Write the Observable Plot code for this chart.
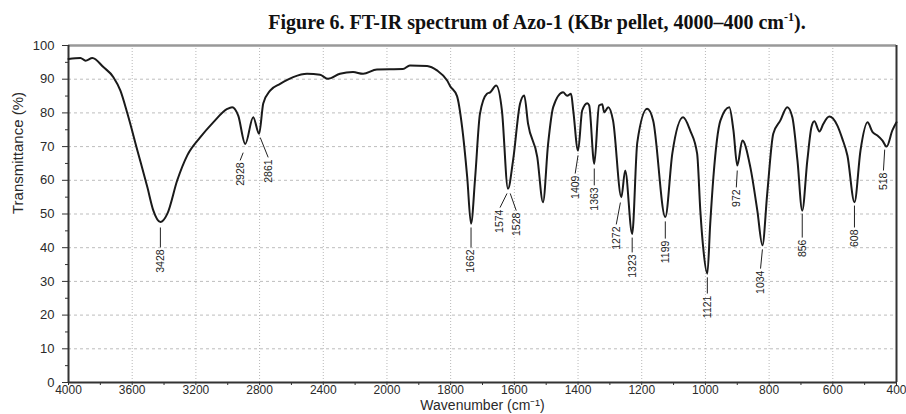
<!DOCTYPE html>
<html><head><meta charset="utf-8">
<script src="https://cdn.jsdelivr.net/npm/d3@7"></script>
<script src="https://cdn.jsdelivr.net/npm/@observablehq/plot@0.6"></script>
<style>
body{margin:0;background:#fff;}
#title{height:36px;width:906px;box-sizing:border-box;padding-left:168px;text-align:center;font:bold 20px "Liberation Serif","Times New Roman",serif;line-height:44px;color:#111;white-space:nowrap;}
#title sup{font-size:12px;line-height:0;}
</style></head><body>
<div id="title">Figure 6. FT-IR spectrum of Azo-1 (KBr pellet, 4000–400 cm<sup>-1</sup>).</div>
<div id="chart"></div>
<script>
// Spectrum (wavenumber in cm^-1, transmittance in %)
const wavenumbers = [4000, 3925, 3893, 3850, 3781, 3718, 3674, 3630, 3567, 3505, 3467, 3423, 3379, 3317, 3254, 3172, 3091, 3003, 2972, 2934, 2890, 2840, 2803, 2777, 2734, 2671, 2589, 2502, 2420, 2370, 2295, 2213, 2150, 2063, 1950, 1928, 1874, 1843, 1811, 1802, 1780, 1764, 1748, 1736, 1723, 1708, 1686, 1676, 1657, 1639, 1620, 1604, 1582, 1569, 1557, 1528, 1510, 1494, 1478, 1447, 1434, 1422, 1415, 1400, 1387, 1371, 1365, 1349, 1334, 1324, 1318, 1305, 1290, 1264, 1252, 1230, 1214, 1183, 1164, 1126, 1104, 1070, 1048, 1026, 1016, 1007, 994, 985, 975, 953, 925, 912, 900, 884, 859, 837, 821, 806, 787, 765, 743, 727, 711, 696, 680, 667, 658, 642, 630, 611, 586, 570, 554, 532, 513, 491, 475, 460, 444, 431, 413, 400];
const transmittance = [96.0, 96.3, 95.5, 96.3, 93.6, 90.6, 86.6, 79.8, 68.8, 58.0, 51.0, 47.6, 50.1, 60.0, 67.4, 72.8, 77.2, 81.2, 81.7, 79.2, 70.8, 78.7, 73.8, 82.8, 86.6, 88.6, 90.6, 91.6, 91.3, 90.1, 91.6, 92.1, 91.6, 92.9, 93.0, 94.1, 93.9, 92.6, 89.6, 88.0, 85.0, 75.8, 60.9, 47.1, 60.9, 79.7, 85.7, 86.1, 88.1, 80.7, 57.5, 65.9, 82.8, 85.2, 76.8, 66.9, 53.5, 70.8, 81.7, 86.1, 85.1, 85.7, 80.7, 68.8, 80.7, 82.9, 82.2, 64.9, 82.2, 82.6, 80.2, 81.7, 77.7, 55.0, 62.9, 44.1, 71.2, 81.2, 77.7, 49.1, 67.9, 78.7, 74.8, 67.9, 51.0, 40.0, 32.3, 47.0, 60.9, 77.7, 81.7, 74.8, 64.4, 71.8, 63.9, 51.0, 40.7, 56.0, 73.8, 77.7, 81.7, 78.7, 65.9, 51.0, 65.9, 75.8, 77.5, 74.5, 76.7, 78.9, 76.3, 72.3, 67.3, 53.5, 68.9, 77.2, 74.3, 73.3, 71.8, 70.0, 74.8, 77.2];

// Peak annotations: label text, leader line start (wn, %T) and end (wn, %T)
const peakLabels = ["3428", "2928", "2861", "1662", "1574", "1528", "1409", "1363", "1272", "1323", "1199", "1121", "972", "1034", "856", "608", "518"];
const leaderStartWn = [3423, 2903, 2796, 1736, 1623, 1613, 1400, 1349, 1267, 1230, 1126, 994, 900, 821, 696, 532, 437];
const leaderStartT  = [46.0, 68.2, 72.7, 46.0, 56.1, 56.1, 67.4, 63.5, 53.4, 43.0, 47.8, 31.2, 62.9, 39.5, 50.1, 52.5, 69.1];
const leaderEndWn   = [3423, 2922, 2746, 1736, 1645, 1594, 1409, 1349, 1280, 1230, 1126, 994, 903, 827, 696, 532, 441];
const leaderEndT    = [40.1, 65.9, 66.8, 40.1, 51.9, 51.0, 62.0, 58.5, 46.9, 38.6, 42.7, 26.4, 57.9, 33.8, 43.0, 46.0, 62.9];

// Axis ticks (the wavenumber axis changes scale at 2000: ticks are evenly spaced)
const xTicks = [4000, 3600, 3200, 2800, 2400, 2000, 1800, 1600, 1400, 1200, 1000, 800, 600, 400];
const xMinorTicks = [3800, 3400, 3000, 2600, 2200, 1900, 1700, 1500, 1300, 1100, 900, 700, 500];
const yTicks = [0, 10, 20, 30, 40, 50, 60, 70, 80, 90, 100];
const yMinorTicks = [5, 15, 25, 35, 45, 55, 65, 75, 85, 95];

const spectrum = wavenumbers.map((w, i) => ({wn: w, t: transmittance[i]}));
const peaks = peakLabels.map((l, i) => ({label: l, sx: leaderStartWn[i], sy: leaderStartT[i], ex: leaderEndWn[i], ey: leaderEndT[i]}));
const lastTick = xTicks[xTicks.length - 1];

const chart = Plot.plot({
  width: 906, height: 378,
  marginLeft: 68, marginRight: 10, marginTop: 9, marginBottom: 32,
  style: {fontFamily: "'Liberation Sans', Arial, sans-serif", background: "white", color: "#2a2a2a"},
  x: {type: "linear", domain: xTicks},
  y: {domain: [0, 100]},
  marks: [
    Plot.gridX(xTicks, {stroke: "#b8b8b8", strokeOpacity: 1, strokeDasharray: "1,2"}),
    Plot.gridY(yTicks.slice(1, -1), {stroke: "#bdbdbd", strokeOpacity: 1, strokeDasharray: "3,3"}),
    Plot.ruleY([100], {stroke: "#999", strokeWidth: 2.5}),
    Plot.ruleX([lastTick], {stroke: "#333", strokeWidth: 2}),
    Plot.axisX(xTicks, {tickSize: 3, tickPadding: 0, fontSize: 12, tickFormat: d => d === lastTick ? "" : String(d), label: null, stroke: "#333"}),
    Plot.text([lastTick], {x: d => d, y: 0, text: d => String(d), textAnchor: "end", lineAnchor: "top", dx: 10, dy: 3, fontSize: 12, fill: "#2a2a2a"}),
    Plot.axisX(xMinorTicks, {tickSize: 3, tickFormat: () => "", label: null, stroke: "#333"}),
    Plot.axisY(yTicks, {tickSize: 6, tickPadding: 8, fontSize: 13, tickFormat: d => String(d), label: null, stroke: "#333"}),
    Plot.axisY(yMinorTicks, {tickSize: 3, tickFormat: () => "", label: null, stroke: "#333"}),
    Plot.ruleX([4000], {stroke: "#333", strokeWidth: 2}),
    Plot.ruleY([0], {stroke: "#333", strokeWidth: 2}),
    Plot.line(spectrum, {x: "wn", y: "t", curve: "monotone-x", stroke: "#1a1a1a", strokeWidth: 2}),
    Plot.link(peaks, {x1: "sx", y1: "sy", x2: "ex", y2: "ey", stroke: "#222", strokeWidth: 1}),
    Plot.text(peaks, {x: "ex", y: "ey", text: "label", rotate: -90, textAnchor: "end", dy: 2, fontSize: 10.5, fill: "#222"}),
    Plot.text(["Transmittance (%)"], {frameAnchor: "left", rotate: -90, dx: -50, fontSize: 15, fill: "#2a2a2a"}),
    Plot.text(["Wavenumber (cm⁻¹)"], {frameAnchor: "bottom", dy: 27, fontSize: 14, fill: "#2a2a2a"})
  ]
});
document.getElementById("chart").appendChild(chart);
</script></body></html>
